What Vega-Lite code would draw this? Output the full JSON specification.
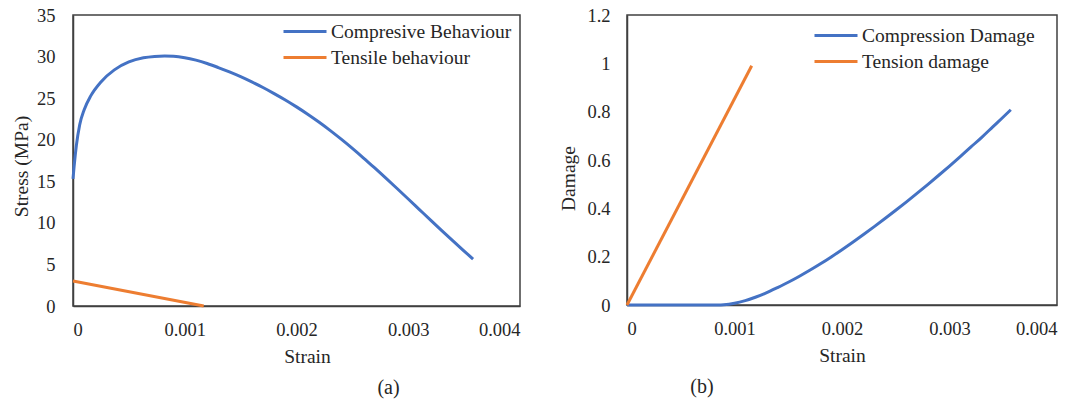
{
  "$schema": "https://vega.github.io/schema/vega-lite/v6.json",
  "padding": {"left": 10, "top": 5, "right": 5, "bottom": 5},
  "background": "white",
  "spacing": 107,
  "bounds": "flush",
  "resolve": {"scale": {"color": "independent"}, "legend": {"color": "independent"}},
  "config": {
    "font": "Liberation Serif, Times New Roman, serif",
    "view": {"stroke": "#404040", "strokeWidth": 1.5},
    "axis": {
      "grid": false, "ticks": false, "domainColor": "#404040", "domainWidth": 1.5,
      "labelFont": "Liberation Serif, Times New Roman, serif", "labelFontSize": 18.5, "labelColor": "#262626",
      "titleFont": "Liberation Serif, Times New Roman, serif", "titleFontSize": 19.5, "titleFontWeight": "normal", "titleColor": "#262626"
    },
    "legend": {
      "labelFont": "Liberation Serif, Times New Roman, serif", "labelFontSize": 19.5, "labelColor": "#262626", "labelLimit": 400,
      "symbolType": "M-2.15,0H2.15", "symbolSize": 400, "symbolStrokeWidth": 3,
      "labelOffset": 14.5, "rowPadding": 5, "padding": 0
    },
    "title": {"font": "Liberation Serif, Times New Roman, serif", "fontSize": 20, "fontWeight": "normal", "color": "#262626"}
  },
  "hconcat": [
    {
      "width": 447,
      "height": 291,
      "title": {"text": "(a)", "orient": "bottom", "dx": 92, "offset": 12},
      "data": {"values": [
        {"strain": 0, "stress": 15.3, "series": "Compresive Behaviour"},
        {"strain": 0.00001, "stress": 16.8, "series": "Compresive Behaviour"},
        {"strain": 0.00003, "stress": 19.3, "series": "Compresive Behaviour"},
        {"strain": 0.00006, "stress": 21.8, "series": "Compresive Behaviour"},
        {"strain": 0.0001, "stress": 23.6, "series": "Compresive Behaviour"},
        {"strain": 0.00016, "stress": 25.3, "series": "Compresive Behaviour"},
        {"strain": 0.00025, "stress": 26.95, "series": "Compresive Behaviour"},
        {"strain": 0.00037, "stress": 28.4, "series": "Compresive Behaviour"},
        {"strain": 0.0005, "stress": 29.35, "series": "Compresive Behaviour"},
        {"strain": 0.00063, "stress": 29.85, "series": "Compresive Behaviour"},
        {"strain": 0.00073, "stress": 30.02, "series": "Compresive Behaviour"},
        {"strain": 0.00082, "stress": 30.07, "series": "Compresive Behaviour"},
        {"strain": 0.0009, "stress": 30.04, "series": "Compresive Behaviour"},
        {"strain": 0.001, "stress": 29.87, "series": "Compresive Behaviour"},
        {"strain": 0.0011, "stress": 29.57, "series": "Compresive Behaviour"},
        {"strain": 0.0012, "stress": 29.17, "series": "Compresive Behaviour"},
        {"strain": 0.0013, "stress": 28.68, "series": "Compresive Behaviour"},
        {"strain": 0.0014, "stress": 28.15, "series": "Compresive Behaviour"},
        {"strain": 0.0015, "stress": 27.58, "series": "Compresive Behaviour"},
        {"strain": 0.0016, "stress": 26.95, "series": "Compresive Behaviour"},
        {"strain": 0.0017, "stress": 26.28, "series": "Compresive Behaviour"},
        {"strain": 0.0018, "stress": 25.55, "series": "Compresive Behaviour"},
        {"strain": 0.0019, "stress": 24.78, "series": "Compresive Behaviour"},
        {"strain": 0.002, "stress": 23.95, "series": "Compresive Behaviour"},
        {"strain": 0.0021, "stress": 23.07, "series": "Compresive Behaviour"},
        {"strain": 0.0022, "stress": 22.13, "series": "Compresive Behaviour"},
        {"strain": 0.0023, "stress": 21.13, "series": "Compresive Behaviour"},
        {"strain": 0.0024, "stress": 20.07, "series": "Compresive Behaviour"},
        {"strain": 0.0025, "stress": 18.96, "series": "Compresive Behaviour"},
        {"strain": 0.0026, "stress": 17.8, "series": "Compresive Behaviour"},
        {"strain": 0.0027, "stress": 16.6, "series": "Compresive Behaviour"},
        {"strain": 0.0028, "stress": 15.38, "series": "Compresive Behaviour"},
        {"strain": 0.0029, "stress": 14.13, "series": "Compresive Behaviour"},
        {"strain": 0.003, "stress": 12.87, "series": "Compresive Behaviour"},
        {"strain": 0.0031, "stress": 11.6, "series": "Compresive Behaviour"},
        {"strain": 0.0032, "stress": 10.33, "series": "Compresive Behaviour"},
        {"strain": 0.0033, "stress": 9.07, "series": "Compresive Behaviour"},
        {"strain": 0.0034, "stress": 7.83, "series": "Compresive Behaviour"},
        {"strain": 0.0035, "stress": 6.61, "series": "Compresive Behaviour"},
        {"strain": 0.00358, "stress": 5.65, "series": "Compresive Behaviour"},
        {"strain": 0, "stress": 3.0, "series": "Tensile behaviour"},
        {"strain": 0.00117, "stress": 0, "series": "Tensile behaviour"}
      ]},
      "mark": {"type": "line", "strokeWidth": 3, "interpolate": "monotone"},
      "encoding": {
        "x": {"field": "strain", "type": "quantitative", "title": "Strain",
              "scale": {"domain": [0, 0.004], "nice": false},
              "axis": {"values": [0, 0.001, 0.002, 0.003, 0.004], "format": "~g", "labelPadding": 14, "titlePadding": 9, "titleX": 234}},
        "y": {"field": "stress", "type": "quantitative", "title": "Stress (MPa)",
              "scale": {"domain": [0, 35], "nice": false},
              "axis": {"values": [0, 5, 10, 15, 20, 25, 30, 35], "labelPadding": 18, "titlePadding": 5, "titleY": 151}},
        "color": {"field": "series", "type": "nominal",
                  "scale": {"domain": ["Compresive Behaviour", "Tensile behaviour"], "range": ["#4472C4", "#ED7D31"]},
                  "legend": {"title": null, "orient": "none", "legendX": 220.5, "legendY": 5}}
      }
    },
    {
      "width": 430,
      "height": 290,
      "title": {"text": "(b)", "orient": "bottom", "dx": -140, "offset": 12},
      "data": {"values": [
        {"strain": 0, "damage": 0, "series": "Compression Damage"},
        {"strain": 0.0004, "damage": 0, "series": "Compression Damage"},
        {"strain": 0.00085, "damage": 0, "series": "Compression Damage"},
        {"strain": 0.0009, "damage": 0.001, "series": "Compression Damage"},
        {"strain": 0.001, "damage": 0.007, "series": "Compression Damage"},
        {"strain": 0.0011, "damage": 0.018, "series": "Compression Damage"},
        {"strain": 0.0012, "damage": 0.033, "series": "Compression Damage"},
        {"strain": 0.0013, "damage": 0.051, "series": "Compression Damage"},
        {"strain": 0.0014, "damage": 0.072, "series": "Compression Damage"},
        {"strain": 0.0015, "damage": 0.094, "series": "Compression Damage"},
        {"strain": 0.0016, "damage": 0.118, "series": "Compression Damage"},
        {"strain": 0.0017, "damage": 0.1435, "series": "Compression Damage"},
        {"strain": 0.0018, "damage": 0.1705, "series": "Compression Damage"},
        {"strain": 0.0019, "damage": 0.199, "series": "Compression Damage"},
        {"strain": 0.002, "damage": 0.229, "series": "Compression Damage"},
        {"strain": 0.0021, "damage": 0.26, "series": "Compression Damage"},
        {"strain": 0.0022, "damage": 0.2918, "series": "Compression Damage"},
        {"strain": 0.0023, "damage": 0.3244, "series": "Compression Damage"},
        {"strain": 0.0024, "damage": 0.3578, "series": "Compression Damage"},
        {"strain": 0.0025, "damage": 0.392, "series": "Compression Damage"},
        {"strain": 0.0026, "damage": 0.427, "series": "Compression Damage"},
        {"strain": 0.0027, "damage": 0.4628, "series": "Compression Damage"},
        {"strain": 0.0028, "damage": 0.4994, "series": "Compression Damage"},
        {"strain": 0.0029, "damage": 0.5368, "series": "Compression Damage"},
        {"strain": 0.003, "damage": 0.575, "series": "Compression Damage"},
        {"strain": 0.0031, "damage": 0.614, "series": "Compression Damage"},
        {"strain": 0.0032, "damage": 0.654, "series": "Compression Damage"},
        {"strain": 0.0033, "damage": 0.694, "series": "Compression Damage"},
        {"strain": 0.0034, "damage": 0.736, "series": "Compression Damage"},
        {"strain": 0.0035, "damage": 0.778, "series": "Compression Damage"},
        {"strain": 0.00357, "damage": 0.808, "series": "Compression Damage"},
        {"strain": 0, "damage": 0, "series": "Tension damage"},
        {"strain": 0.00116, "damage": 0.99, "series": "Tension damage"}
      ]},
      "mark": {"type": "line", "strokeWidth": 3, "interpolate": "monotone"},
      "encoding": {
        "x": {"field": "strain", "type": "quantitative", "title": "Strain",
              "scale": {"domain": [0, 0.004], "nice": false},
              "axis": {"values": [0, 0.001, 0.002, 0.003, 0.004], "format": "~g", "labelPadding": 14, "titlePadding": 9}},
        "y": {"field": "damage", "type": "quantitative", "title": "Damage",
              "scale": {"domain": [0, 1.2], "nice": false},
              "axis": {"values": [0, 0.2, 0.4, 0.6, 0.8, 1, 1.2], "format": "~g", "labelPadding": 17, "titlePadding": 8, "titleY": 163}},
        "color": {"field": "series", "type": "nominal",
                  "scale": {"domain": ["Compression Damage", "Tension damage"], "range": ["#4472C4", "#ED7D31"]},
                  "legend": {"title": null, "orient": "none", "legendX": 197.5, "legendY": 9}}
      }
    }
  ]
}
